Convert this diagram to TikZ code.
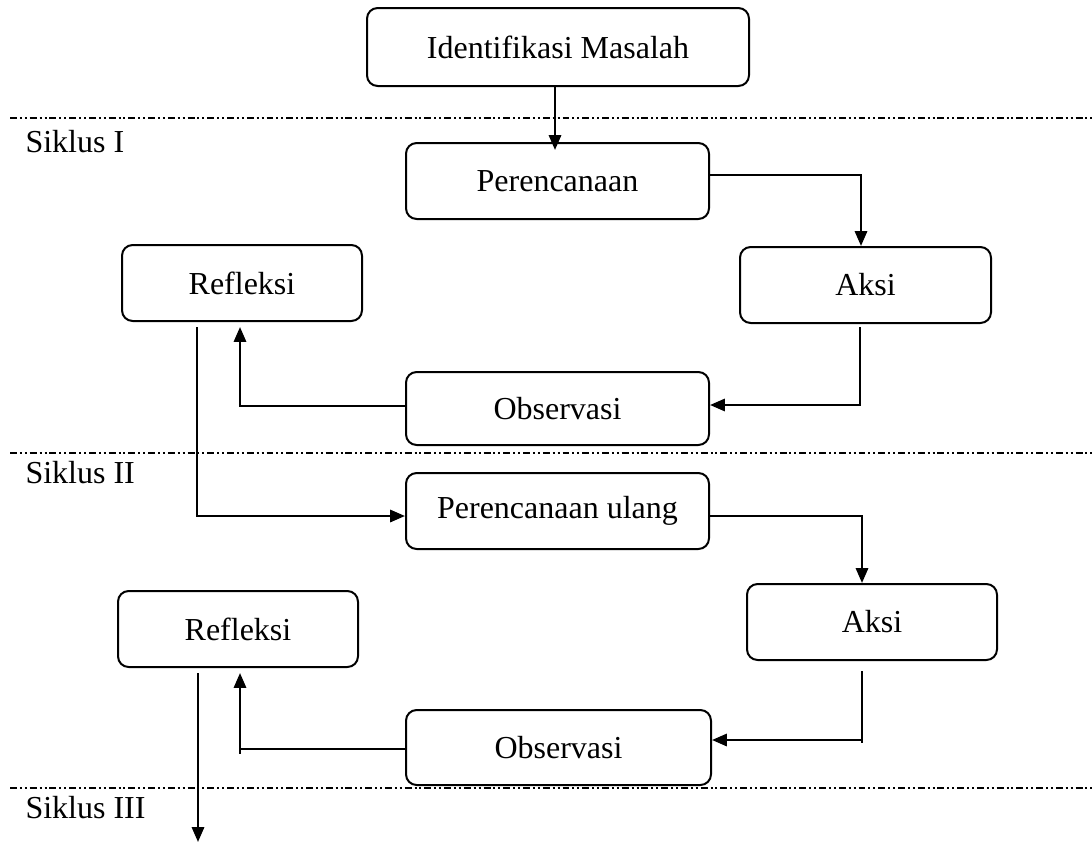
\documentclass[tikz,border=0pt]{standalone}
\usepackage{fontspec}
\setmainfont{Liberation Serif}
\usetikzlibrary{arrows.meta,calc}
\tikzset{
  box/.style 2 args={draw, rounded corners=4pt, line width=0.75pt, inner sep=0pt,
    minimum width=#1*0.375pt, minimum height=#2*0.375pt, font=\fontsize{12}{14}\selectfont},
  lab/.style={anchor=base west, inner sep=0pt, font=\fontsize{12}{14}\selectfont},
  arr/.style={line width=0.9pt, -{Triangle[length=5.6pt,width=4.6pt]}},
  ln/.style={line width=0.9pt},
  sep/.style={line width=0.75pt, dash pattern=on 2.6pt off 1.1pt on 0.75pt off 1.1pt on 0.75pt off 1.1pt}
}
\begin{document}
\begin{tikzpicture}[x=0.375pt,y=-0.375pt]
\useasboundingbox (0,0) rectangle (1092,842);
% separators
\draw[sep] (10,118) -- (1092,118);
\draw[sep] (10,453) -- (1092,453);
\draw[sep] (10,788) -- (1092,788);
\node[lab] (s1) at (25,152) {Siklus I};
\node[lab] (s2) at (25,483) {Siklus II};
\node[lab] (s3) at (25,818) {Siklus III};
% boxes
\node[box={382}{78}] (ident) at (558,47) {Identifikasi Masalah};
\node[box={303}{76}] (peren) at (557.5,181) {Perencanaan};
\node[box={251}{76}] (aksi1) at (865.5,285) {Aksi};
\node[box={240}{76}] (refl1) at (242,283) {Refleksi};
\node[box={303}{73}] (obs1) at (557.5,408.5) {Observasi};
\node[box={303}{76}] (pul) at (557.5,511) {Perencanaan ulang};
\node[box={250}{76}] (aksi2) at (872,622) {Aksi};
\node[box={240}{76}] (refl2) at (238,629) {Refleksi};
\node[box={305}{75}] (obs2) at (558.5,747.5) {Observasi};
% coordinates
\coordinate (a) at (861,175);
\coordinate (b) at (860,405);
\coordinate (c) at (240,406);
\coordinate (d) at (197,516);
\coordinate (e) at (862,516);
\coordinate (f) at (862,740);
\coordinate (g) at (240,749);
\coordinate (h) at (198,842);
% connectors
\draw[arr] (ident.south -| 555,0) -- ($(peren.north -| 555,0)+(0,8)$);
\draw[arr] (peren.east |- a) -- (a) -- (a |- aksi1.north);
\draw[arr] ($(aksi1.south -| b)+(0,3)$) -- (b) -- (b -| obs1.east);
\draw[arr] (obs1.west |- c) -- (c) -- ($(c |- refl1.south)+(0,5)$);
\draw[arr] ($(refl1.south -| d)+(0,5)$) -- (d) -- (d -| pul.west);
\draw[arr] (pul.east |- e) -- (e) -- (e |- aksi2.north);
\draw[ln] ($(aksi2.south -| f)+(0,10)$) -- ($(f)+(0,3)$);
\draw[arr] (f) -- (f -| obs2.east);
\draw[ln] (obs2.west |- g) -- (g) -- ($(g)+(0,5)$);
\draw[arr] (g) -- ($(g |- refl2.south)+(0,5)$);
\draw[arr] ($(refl2.south -| h)+(0,5)$) -- (h);
\end{tikzpicture}
\end{document}
